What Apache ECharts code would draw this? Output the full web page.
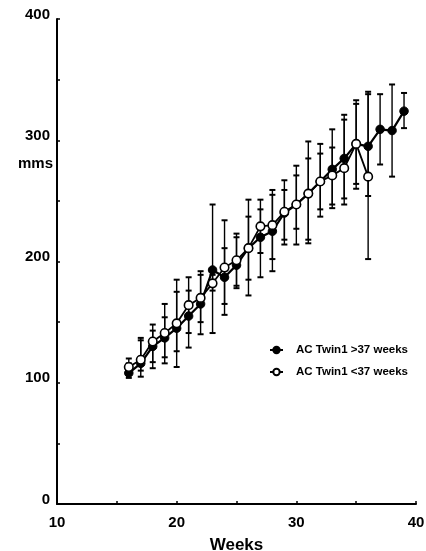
<!DOCTYPE html>
<html>
<head>
<meta charset="utf-8">
<script src="https://cdn.jsdelivr.net/npm/echarts@6/dist/echarts.min.js"></script>
<style>
  html, body { margin: 0; padding: 0; background: #ffffff; }
  #chart { width: 426px; height: 551px; }
</style>
</head>
<body>
<div id="chart"></div>
<script>
// Abdominal circumference (mm) of twin 1 by gestational week,
// split by delivery after / before 37 weeks, with range bars.
const weeksLate = [16, 17, 18, 19, 20, 21, 22, 23, 24, 25, 26, 27, 28, 29, 30, 31, 32, 33, 34, 35, 36, 37, 38, 39];
const acLate    = [108, 116, 130, 137, 145, 155, 165, 193, 187, 197, 211, 220, 225, 240, 247, 256, 266, 276, 285, 297, 295, 309, 308, 324];
const lateLow   = [104, 105, 112, 116, 113, 129, 140, 141, 156, 178, 172, 187, 192, 214, 214, 215, 237, 244, 247, 260, 254, 280, 270, 310];
const lateHigh  = [116, 135, 148, 165, 185, 176, 189, 247, 211, 220, 251, 243, 255, 259, 271, 285, 289, 294, 317, 333, 340, 338, 346, 339];

const weeksEarly = [16, 17, 18, 19, 20, 21, 22, 23, 24, 25, 26, 27, 28, 29, 30, 31, 32, 33, 34, 35, 36];
const acEarly    = [113, 119, 134, 141, 149, 164, 170, 182, 195, 201, 211, 229, 230, 241, 247, 256, 266, 271, 277, 297, 270];
const earlyLow   = [109, 110, 117, 121, 126, 141, 150, 176, 165, 180, 185, 207, 202, 218, 227, 218, 243, 247, 252, 264, 202];
const earlyHigh  = [120, 137, 143, 154, 175, 187, 192, 189, 234, 223, 237, 251, 259, 267, 279, 299, 297, 309, 321, 330, 338];

const seriesNames = ['AC Twin1 >37 weeks', 'AC Twin1 <37 weeks'];
const xLabels = [10, 20, 30, 40];
const yLabels = [0, 100, 200, 300, 400];

const FONT = '"Liberation Sans", Arial, Helvetica, sans-serif';

function pairs(xs, ys) { return xs.map((x, i) => [x, ys[i]]); }
function bars(xs, lo, hi) { return xs.map((x, i) => [x, lo[i], hi[i]]); }

// Vertical range bar with short caps at both ends
function renderRange(params, api) {
  const x = api.value(0);
  const lo = api.coord([x, api.value(1)]);
  const hi = api.coord([x, api.value(2)]);
  const cap = 3;
  const style = { stroke: '#000', lineWidth: 1.4, fill: null };
  return {
    type: 'group',
    children: [
      { type: 'line', shape: { x1: lo[0], y1: lo[1], x2: hi[0], y2: hi[1] }, style },
      { type: 'line', shape: { x1: lo[0] - cap, y1: lo[1], x2: lo[0] + cap, y2: lo[1] }, style: { stroke: '#000', lineWidth: 2 } },
      { type: 'line', shape: { x1: hi[0] - cap, y1: hi[1], x2: hi[0] + cap, y2: hi[1] }, style: { stroke: '#000', lineWidth: 2 } }
    ]
  };
}

const chart = echarts.init(document.getElementById('chart'), null, { renderer: 'canvas' });

chart.setOption({
  animation: false,
  backgroundColor: '#ffffff',
  grid: { left: 57, right: 10, top: 19, bottom: 47, containLabel: false, outerBoundsMode: 'none' },
  legend: {
    orient: 'vertical',
    left: 264,
    top: 339,
    itemGap: 10,
    itemWidth: 13,
    itemHeight: 8,
    data: seriesNames,
    textStyle: { fontFamily: FONT, fontWeight: 'bold', fontSize: 11.5, color: '#000', padding: [0, 0, 0, 8] }
  },
  xAxis: {
    type: 'value',
    min: 10,
    max: 40,
    interval: 5,
    name: 'Weeks',
    nameLocation: 'middle',
    nameGap: 33,
    nameTextStyle: { fontFamily: FONT, fontWeight: 'bold', fontSize: 17, color: '#000' },
    axisLine: { onZero: false, lineStyle: { color: '#000', width: 2 } },
    axisTick: { inside: true, length: 3, lineStyle: { color: '#000', width: 1.5 } },
    axisLabel: {
      margin: 11,
      fontFamily: FONT, fontWeight: 'bold', fontSize: 15, color: '#000',
      formatter: v => (xLabels.includes(v) ? String(v) : '')
    },
    splitLine: { show: false }
  },
  yAxis: {
    type: 'value',
    min: 0,
    max: 400,
    interval: 50,
    axisLine: { onZero: false, lineStyle: { color: '#000', width: 2 } },
    axisTick: { inside: true, length: 3, lineStyle: { color: '#000', width: 1.5 } },
    axisLabel: {
      margin: 7,
      verticalAlign: 'bottom',
      lineHeight: 9,
      fontFamily: FONT, fontWeight: 'bold', fontSize: 15, color: '#000',
      formatter: v => (yLabels.includes(v) ? String(v) : '')
    },
    splitLine: { show: false }
  },
  graphic: [
    {
      type: 'text',
      left: 18,
      top: 156,
      style: { text: 'mms', fontFamily: FONT, fontWeight: 'bold', fontSize: 15, fill: '#000' }
    }
  ],
  series: [
    {
      type: 'custom',
      name: 'late-range',
      renderItem: renderRange,
      data: bars(weeksLate, lateLow, lateHigh),
      z: 1,
      silent: true
    },
    {
      type: 'custom',
      name: 'early-range',
      renderItem: renderRange,
      data: bars(weeksEarly, earlyLow, earlyHigh),
      z: 1,
      silent: true
    },
    {
      type: 'line',
      name: seriesNames[0],
      data: pairs(weeksLate, acLate),
      symbol: 'circle',
      symbolSize: 8.5,
      showAllSymbol: true,
      lineStyle: { color: '#000', width: 2.2 },
      itemStyle: { color: '#000', borderColor: '#000', borderWidth: 1 },
      z: 3
    },
    {
      type: 'line',
      name: seriesNames[1],
      data: pairs(weeksEarly, acEarly),
      symbol: 'circle',
      symbolSize: 8.5,
      showAllSymbol: true,
      lineStyle: { color: '#000', width: 1.8 },
      itemStyle: { color: '#fff', borderColor: '#000', borderWidth: 1.6 },
      z: 4
    }
  ]
});
</script>
</body>
</html>
